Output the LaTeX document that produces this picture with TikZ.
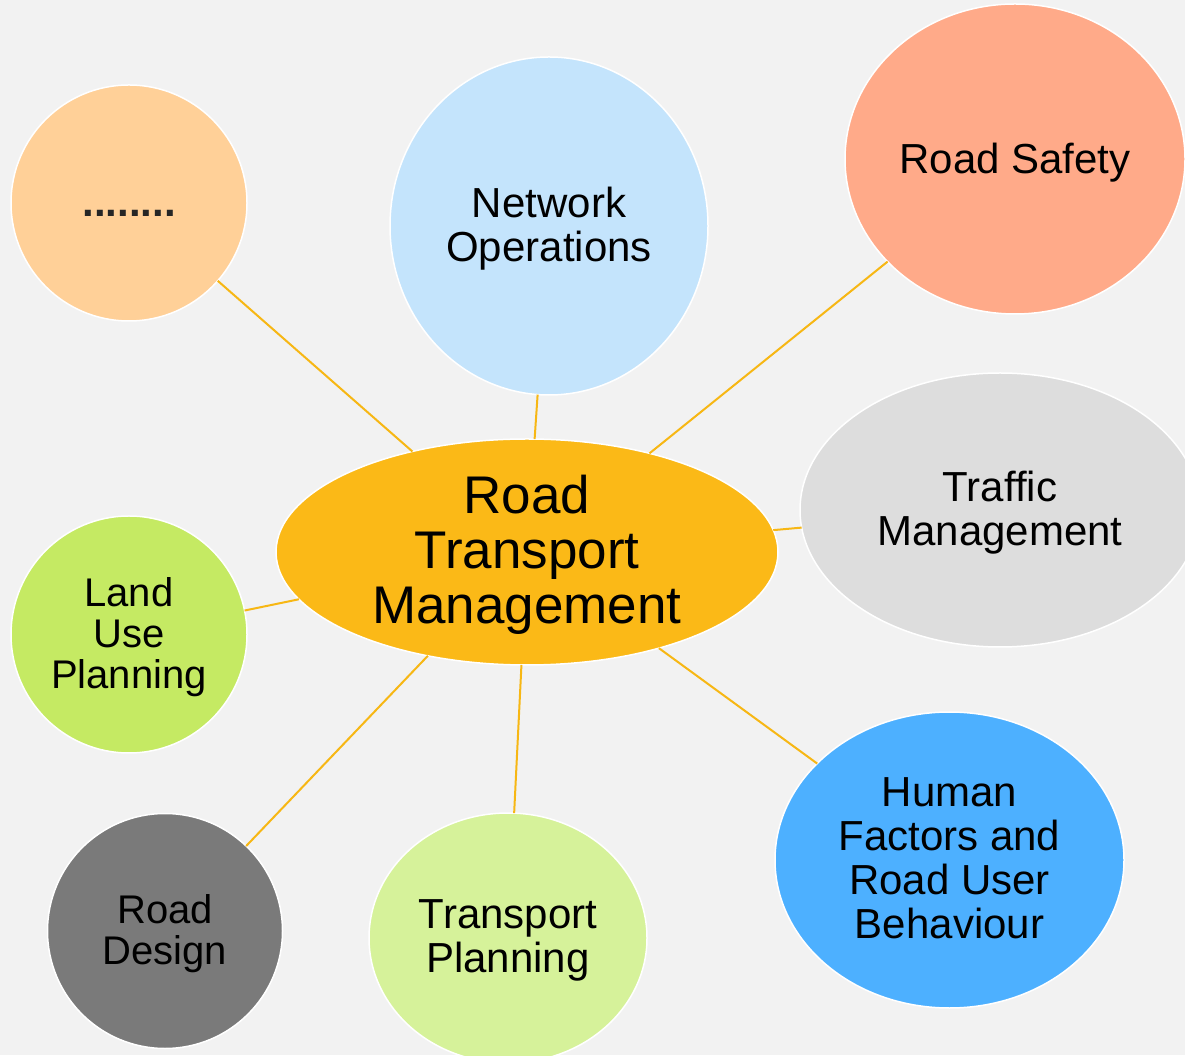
\documentclass[tikz,border=0pt]{standalone}
\usepackage{fontspec}
\setmainfont{Liberation Sans}
\usetikzlibrary{shapes.geometric}

\definecolor{bgc}{HTML}{F2F2F2}
\definecolor{hubc}{HTML}{FBB917}
\definecolor{dotsc}{HTML}{FFD098}
\definecolor{netc}{HTML}{C4E4FC}
\definecolor{safec}{HTML}{FFAA89}
\definecolor{trafc}{HTML}{DDDDDD}
\definecolor{landc}{HTML}{C5EA63}
\definecolor{designc}{HTML}{7A7A7A}
\definecolor{planc}{HTML}{D6F29A}
\definecolor{humanc}{HTML}{4DB0FF}
\definecolor{linkc}{HTML}{F7B714}
\definecolor{inkc}{HTML}{262626}

\begin{document}
\begin{tikzpicture}[x=1pt,y=1pt,
  bubble/.style={ellipse, draw=white, line width=1.5pt, inner sep=0pt, outer sep=0pt},
  btext/.style={align=center, inner sep=0pt, font=\fontsize{42}{44}\selectfont},
  bsmall/.style={align=center, inner sep=0pt, font=\fontsize{40}{41}\selectfont},
  link/.style={draw=linkc, line width=2pt}
]
\useasboundingbox (0,0) rectangle (1185,1055);
\clip (0,0) rectangle (1185,1055);
\fill[bgc] (0,0) rectangle (1185,1055);

% bubbles
\node[bubble, fill=hubc,    minimum width=502pt, minimum height=226pt] (hub)    at (527,503) {};
\node[bubble, fill=dotsc,   minimum width=236pt, minimum height=236pt] (dots)   at (129,852) {};
\node[bubble, fill=netc,    minimum width=318pt, minimum height=338pt] (net)    at (549,829) {};
\node[bubble, fill=safec,   minimum width=340pt, minimum height=310pt] (safe)   at (1015,896) {};
\node[bubble, fill=trafc,   minimum width=400pt, minimum height=274pt] (traf)   at (1000,545) {};
\node[bubble, fill=landc,   minimum width=236pt, minimum height=237pt] (land)   at (129,420.5) {};
\node[bubble, fill=designc, minimum width=235pt, minimum height=235pt] (design) at (165,124) {};
\node[bubble, fill=planc,   minimum width=278pt, minimum height=250pt] (plan)   at (508,117) {};
\node[bubble, fill=humanc,  minimum width=349pt, minimum height=296pt] (human)  at (949.5,195) {};

% connectors from the hub to each topic
\foreach \n in {dots,net,safe,traf,land,design,plan,human}
  \draw[link] (hub) -- (\n);

% texts
\node[align=center, inner sep=0pt, font=\fontsize{53}{55}\selectfont, yshift=-3pt] (hub-t) at (hub.center) {Road\\Transport\\Management};
\node[anchor=base, inner sep=0pt, text=inkc, font=\fontsize{42}{44}\selectfont\bfseries] (dots-t) at (129,838) {........};
\node[btext, yshift=-3pt] (net-t) at (net.center) {Network\\Operations};
\node[btext, yshift=-4pt] (safe-t) at (safe.center) {Road Safety};
\node[btext, yshift=-3pt] (traf-t) at (traf.center) {Traffic\\Management};
\node[bsmall, yshift=-3pt] (land-t) at (land.center) {Land\\Use\\Planning};
\node[bsmall, yshift=-3pt] (design-t) at (design.center) {Road\\Design};
\node[btext, yshift=-2pt] (plan-t) at (plan.center) {Transport\\Planning};
\node[btext, yshift=2pt] (human-t) at (human.center) {Human\\Factors and\\Road User\\Behaviour};
\end{tikzpicture}
\end{document}
